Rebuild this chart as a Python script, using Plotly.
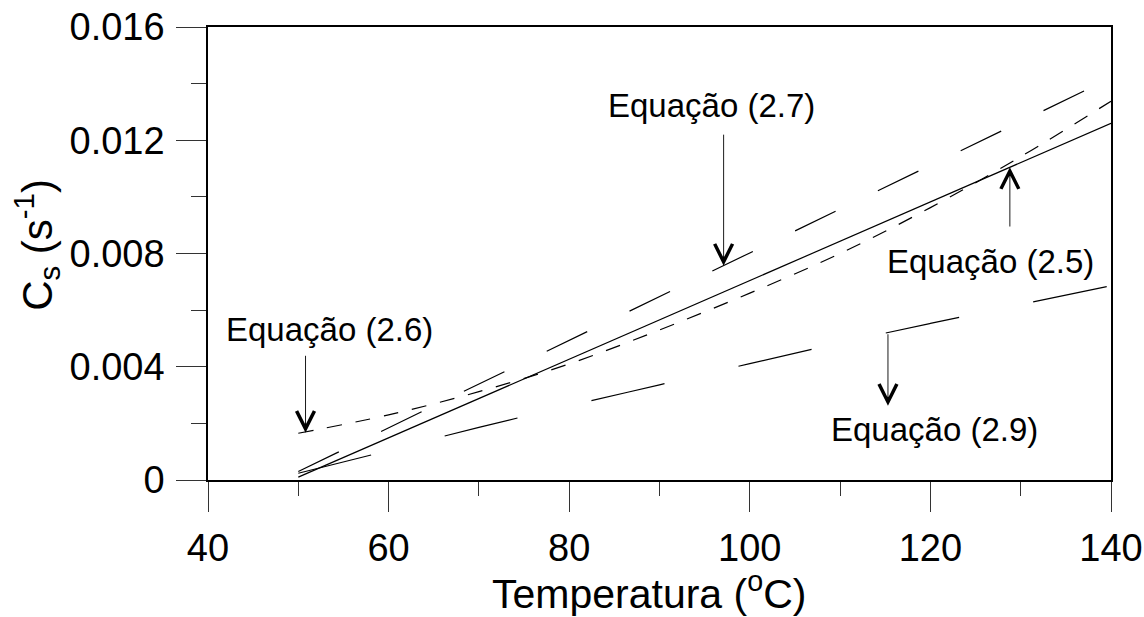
import plotly.graph_objects as go

# Temperature (ºC)
temperatura = [50, 60, 70, 80, 90, 100, 110, 120, 130, 140]

# C_s (s^-1) for each equation
eq_2_5 = [0.0001, 0.00149, 0.00289, 0.00427, 0.00566, 0.00705, 0.00843, 0.00982, 0.01121, 0.0126]
eq_2_6 = [0.00165, 0.0023, 0.00312, 0.0041, 0.0053, 0.0066, 0.0080, 0.00962, 0.01142, 0.01338]
eq_2_7 = [0.0003, 0.00184, 0.00339, 0.00493, 0.00648, 0.00802, 0.00957, 0.01111, 0.01266, 0.0142]
eq_2_9 = [0.00024, 0.00104, 0.00186, 0.00262, 0.00336, 0.00411, 0.00484, 0.00553, 0.0062, 0.00686]

x_ticks = [40, 60, 80, 100, 120, 140]
y_ticks = [0, 0.004, 0.008, 0.012, 0.016]
y_tick_labels = ["0", "0.004", "0.008", "0.012", "0.016"]

FONT = "Liberation Sans, Arial, Helvetica, sans-serif"

fig = go.Figure()
fig.add_trace(go.Scatter(x=temperatura, y=eq_2_5, mode="lines",
                         line=dict(color="black", width=1.2), name="Equação (2.5)"))
fig.add_trace(go.Scatter(x=temperatura, y=eq_2_6, mode="lines",
                         line=dict(color="black", width=1.2, dash="15px,14px", shape="spline"),
                         name="Equação (2.6)"))
fig.add_trace(go.Scatter(x=temperatura, y=eq_2_7, mode="lines",
                         line=dict(color="black", width=1.2, dash="45px,47px"), name="Equação (2.7)"))
fig.add_trace(go.Scatter(x=temperatura, y=eq_2_9, mode="lines",
                         line=dict(color="black", width=1.2, dash="75px,76px", shape="spline"),
                         name="Equação (2.9)"))

# labels: (text, x, y)
labels = [
    ("Equação (2.6)", 53.4, 0.0053),
    ("Equação (2.7)", 95.8, 0.01323),
    ("Equação (2.5)", 126.6, 0.00772),
    ("Equação (2.9)", 120.5, 0.0018),
]
for txt, lx, ly in labels:
    fig.add_annotation(x=lx, y=ly, xref="x", yref="y", text=txt, showarrow=False,
                       xanchor="center", yanchor="middle",
                       font=dict(family=FONT, size=33, color="black"))

# arrows: (tip x, tip y, tail y)
arrows = [
    (50.8, 0.00167, 0.00444),
    (97.1, 0.00757, 0.01225),
    (128.8, 0.01105, 0.0089),
    (115.3, 0.00262, 0.0052),
]
for tx, ty, tail in arrows:
    fig.add_annotation(x=tx, y=ty, ax=tx, ay=tail, xref="x", yref="y", axref="x", ayref="y",
                       text="", showarrow=True, arrowhead=5, arrowsize=3.9, arrowwidth=0.9,
                       arrowcolor="black", standoff=0)

# axis titles as annotations (precise placement)
fig.add_annotation(x=0.488, y=0, xref="paper", yref="paper", yshift=-111,
                   text="Temperatura (<sup>o</sup>C)", showarrow=False,
                   xanchor="center", yanchor="middle",
                   font=dict(family=FONT, size=41, color="black"))
fig.add_annotation(x=-0.19, y=0.52, xref="paper", yref="paper", textangle=-90,
                   text="C<sub>s</sub> (s<sup>-1</sup>)", showarrow=False,
                   xanchor="center", yanchor="middle",
                   font=dict(family=FONT, size=42, color="black"))

axis_common = dict(showgrid=False, zeroline=False, showline=True, linecolor="black",
                   linewidth=1.5, mirror=True, ticks="outside", tickcolor="#333",
                   tickwidth=1.3, ticklen=30, automargin=False, ticklabeloverflow="allow",
                   tickfont=dict(family=FONT, size=38, color="black"))

fig.update_xaxes(range=[40, 140], tickvals=x_ticks, ticktext=[str(v) for v in x_ticks],
                 minor=dict(dtick=10, tick0=40, ticks="outside", ticklen=14,
                            tickcolor="#333", tickwidth=1.3),
                 ticklabelstandoff=4, **axis_common)
fig.update_yaxes(range=[0, 0.016], tickvals=y_ticks, ticktext=y_tick_labels,
                 minor=dict(dtick=0.002, tick0=0, ticks="outside", ticklen=15,
                            tickcolor="#333", tickwidth=1.3),
                 ticklabelstandoff=4, **axis_common)

fig.update_layout(width=1144, height=617, plot_bgcolor="white", paper_bgcolor="white",
                  showlegend=False, margin=dict(l=208, r=33, t=27, b=137, autoexpand=False))

# remove the page's default body margin so the 1144x617 figure fills the window exactly
fig.write_html("out.html", config={"displayModeBar": False},
               post_script="document.body.style.margin='0';document.body.style.overflow='hidden';")
